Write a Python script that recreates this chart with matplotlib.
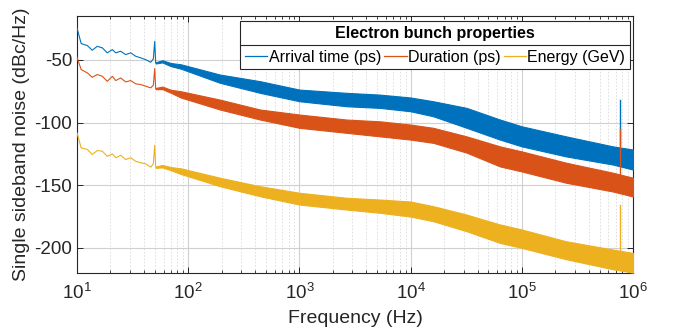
import matplotlib
matplotlib.use('Agg')
import matplotlib.pyplot as plt
from matplotlib.lines import Line2D

plt.rcParams['font.family'] = ['Liberation Sans', 'DejaVu Sans']
plt.rcParams['axes.unicode_minus'] = False
plt.rcParams['mathtext.fontset'] = 'custom'
plt.rcParams['mathtext.rm'] = 'Liberation Sans'
plt.rcParams['mathtext.it'] = 'Liberation Sans:italic'
plt.rcParams['mathtext.bf'] = 'Liberation Sans:bold'

# ---------------- data ----------------
series_names = ["Arrival time (ps)", "Duration (ps)", "Energy (GeV)"]
series_colors = ["#0072BD", "#D95319", "#EDB120"]

# low-frequency part: a single, clearly resolved trace
f_low = [10, 10.9, 12.4, 13.7, 15.2, 16.9, 18.7, 20.8, 22.3, 24.7, 27.4,
         30.4, 33.7, 37.4, 41.5, 46, 48.6, 50, 51]
arrival_low = [-24.5, -37, -38.6, -42.3, -39.2, -40.4, -44.4, -41.8, -44.4,
               -43.1, -45.8, -44.4, -47.1, -48.4, -49.8, -51.9, -49.2, -35.2,
               -52.4]
duration_low = [-47.9, -57.7, -60.4, -63.9, -61.7, -63.1, -67.1, -63.1, -66.5,
                -64.4, -67.6, -66.5, -69.1, -69.7, -71, -72.3, -70.2, -56.9,
                -72.9]
energy_low = [-108.2, -120.2, -121.5, -125.5, -122.3, -122.9, -126.9, -125,
              -128.1, -126.1, -129.5, -128.1, -130.9, -132.1, -132.9, -135.6,
              -132.9, -118.1, -135.6]

# higher-frequency part: dense noise shown as upper / lower envelopes
f_band = [51, 58.5, 69.6, 85.7, 193, 443, 1000, 2660, 5300, 10000, 16000,
          31900, 63700, 1e5, 2.5e5, 6.6e5, 1e6]
arrival_hi = [-51.9, -50.3, -52.5, -53.5, -61.7, -67, -73.7, -76.3, -77.7,
              -80, -83, -88.3, -97.6, -103, -111, -119, -121.5]
arrival_lo = [-52.9, -52, -55, -57, -68.3, -76.3, -83, -87, -88.3, -91, -95,
              -104.2, -113.6, -119, -127, -133.5, -137.5]
duration_hi = [-72.4, -71.3, -73.8, -75, -81.7, -89.6, -93.6, -97.6, -99,
               -101.6, -104.2, -111, -119, -123, -132, -140, -144]
duration_lo = [-73.4, -73.3, -76.2, -80, -89.6, -97.6, -104.2, -108.2, -111,
               -113.6, -116.2, -124, -135, -139, -148, -155, -159]
energy_hi = [-135.1, -133.8, -135.5, -136.5, -144, -150.8, -156, -160, -161.4,
             -163, -166.7, -173.4, -181.3, -185.3, -194.7, -201.3, -204]
energy_lo = [-136.1, -135.8, -138, -141, -150.8, -158.8, -165.4, -169.4, -172,
             -175, -178.7, -186.7, -196, -200, -209, -217, -219.7]

# narrow spur near 760 kHz
f_spur = 7.6e5
arrival_spur = [-82.3, -118]
duration_spur = [-104.8, -142.8]
energy_spur = [-165.4, -202.6]

y_ticks = [-200, -150, -100, -50]
legend_title = "Electron bunch properties"

# ---------------- figure ----------------
fig = plt.figure(figsize=(6.73, 3.31), dpi=100)
ax = fig.add_axes([77 / 673, 1 - 273 / 331, 556 / 673, 257 / 331])

lows = [arrival_low, duration_low, energy_low]
his = [arrival_hi, duration_hi, energy_hi]
los = [arrival_lo, duration_lo, energy_lo]
spurs = [arrival_spur, duration_spur, energy_spur]

for name, col, lo_tr, hi, lo, sp in zip(series_names, series_colors, lows, his, los, spurs):
    ax.plot(f_low, lo_tr, color=col, lw=0.8, zorder=3)
    ax.fill_between(f_band, lo, hi, color=col, lw=0.8, edgecolor=col, zorder=3)
    ax.plot([f_spur, f_spur], sp, color=col, lw=1.0, zorder=3)

ax.set_xscale('log')
ax.set_xlim(10, 1e6)
ax.set_ylim(-220, -15)
ax.set_yticks(y_ticks)
ax.set_yticklabels([str(v) for v in y_ticks])

ax.grid(True, which='major', axis='both', color='#d0d0d0', lw=0.8, ls='-', zorder=0)
ax.grid(True, which='minor', axis='x', color='#dadada', lw=0.6, ls=(0, (2, 2)), zorder=0)
ax.set_axisbelow(True)

for s in ax.spines.values():
    s.set_color('#262626')
    s.set_linewidth(0.8)
ax.tick_params(which='both', direction='in', top=True, right=True,
               colors='#262626', labelsize=13.5)
ax.tick_params(which='major', length=4, width=0.7)
ax.tick_params(which='minor', length=2.5, width=0.6)
ax.tick_params(axis='x', pad=7)

ax.set_xlabel("Frequency (Hz)", fontsize=14, color='#262626', labelpad=5)
ax.set_ylabel("Single sideband noise (dBc/Hz)", fontsize=14, color='#262626', labelpad=3)

handles = [Line2D([], [], color=c, lw=0.9) for c in series_colors]
leg = ax.legend(handles, series_names, ncol=3, loc='upper right',
                bbox_to_anchor=(0.9946, 0.9805), borderaxespad=0,
                title=legend_title, title_fontproperties={'weight': 'bold', 'size': 11.5},
                fontsize=11.5, frameon=True, fancybox=False, framealpha=1,
                edgecolor='#262626', handlelength=1.4, handletextpad=0.08,
                columnspacing=0.2, borderpad=0.3, labelspacing=0.55)
leg.get_frame().set_linewidth(0.8)
leg.set_zorder(10)

fig.canvas.draw()
lb = leg.get_window_extent()
tb = leg.get_title().get_window_extent()
inv = fig.transFigure.inverted()
ysep = tb.y0 - 0.275 * 11.5 * 100 / 72
(x0, y0) = inv.transform((lb.x0, ysep))
(x1, _) = inv.transform((lb.x1, ysep))
fig.add_artist(Line2D([x0, x1], [y0, y0], transform=fig.transFigure,
                      color='#262626', lw=0.8, zorder=11))

fig.savefig('out.png', dpi=100)
